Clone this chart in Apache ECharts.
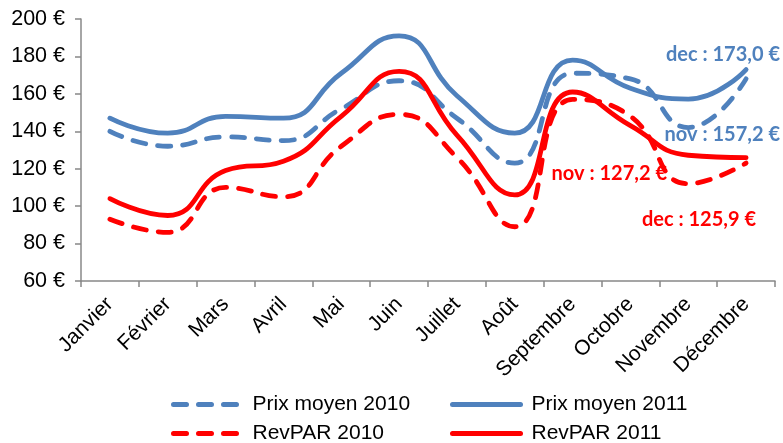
<!DOCTYPE html>
<html><head><meta charset="utf-8">
<script src="https://cdn.jsdelivr.net/npm/echarts@6/dist/echarts.min.js"></script>
<style>html,body{margin:0;padding:0;background:#fff}#c{width:783px;height:443px}</style>
</head><body><div id="c"></div>
<script>
var months = ['Janvier','Février','Mars','Avril','Mai','Juin','Juillet','Août','Septembre','Octobre','Novembre','Décembre'];
var prix2010 = [140,132,137,135,152,167,147,123,171,168,142,168];
var prix2011 = [147,139,148,147,171,191,159,139,178,163,157.2,173.0];
var rev2010 = [93,86,110,105,132,149,126,89,157,148,112,123];
var rev2011 = [104,95,119,124,148,172,138,106,161,143,127.2,125.9];
var yTicks = [60,80,100,120,140,160,180,200];
var annotations = [
  {text:'dec : 173,0 €', color:'#4F81BD', x:780, y:57},
  {text:'nov : 157,2 €', color:'#4F81BD', x:780, y:137},
  {text:'nov : 127,2 €', color:'#FF0000', x:667, y:176},
  {text:'dec : 125,9 €', color:'#FF0000', x:756, y:222}
];
var BLUE='#4F81BD', RED='#FF0000';
var DASH=[13,12];
var chart = echarts.init(document.getElementById('c'), null, {renderer:'canvas'});
function mk(name, data, color, dashed){
  return {name:name, type:'line', data:data, smooth:0.5, symbol:'none',
    lineStyle:{color:color, width:4.8, type: dashed?DASH:'solid', cap:'round', join:'round'},
    itemStyle:{color:color}};
}
var font = 'Liberation Sans, Arial, sans-serif';
function lg(name, left, top, w, pad, dashed){
  return {data:[name], left:left, top:top, padding:0, itemWidth:w, itemHeight:14,
    itemStyle:{opacity:0},
    lineStyle:{width:5, type: dashed?DASH:'solid', cap:'round'},
    textStyle:{fontSize:21, fontFamily:font, color:'#000', padding:[0,0,0,pad]}};
}
chart.setOption({
  animation:false,
  grid:{left:81, right:8, top:19, bottom:162, containLabel:false},
  xAxis:{type:'category', data:months, boundaryGap:true,
    axisLine:{lineStyle:{color:'#888', width:1.5}},
    axisTick:{show:true, length:6, lineStyle:{color:'#888', width:1.5}},
    axisLabel:{rotate:45, color:'#000', fontSize:21, fontFamily:font, margin:20, interval:0}},
  yAxis:{type:'value', min:yTicks[0], max:yTicks[yTicks.length-1], interval:20,
    axisLine:{show:true, lineStyle:{color:'#888', width:1.5}},
    axisTick:{show:true, length:6, lineStyle:{color:'#888', width:1.5}},
    splitLine:{show:false},
    axisLabel:{color:'#000', fontSize:21.5, fontFamily:font, margin:16, formatter:function(v){return v+' €';}}},
  legend:[
    lg('Prix moyen 2010', 171, 394, 64, 10, true),
    lg('Prix moyen 2011', 450, 394, 68, 6, false),
    lg('RevPAR 2010', 171, 423, 64, 10, true),
    lg('RevPAR 2011', 450, 423, 68, 6, false)
  ],
  graphic: annotations.map(function(a){
    return {type:'text', right: 783 - a.x, top: a.y - 12,
      style:{text:a.text, fill:a.color, font:'bold 20px Lato, sans-serif'}};
  }),
  series:[
    mk('Prix moyen 2010', prix2010, BLUE, true),
    mk('Prix moyen 2011', prix2011, BLUE, false),
    mk('RevPAR 2010', rev2010, RED, true),
    mk('RevPAR 2011', rev2011, RED, false)
  ]
});
</script></body></html>
